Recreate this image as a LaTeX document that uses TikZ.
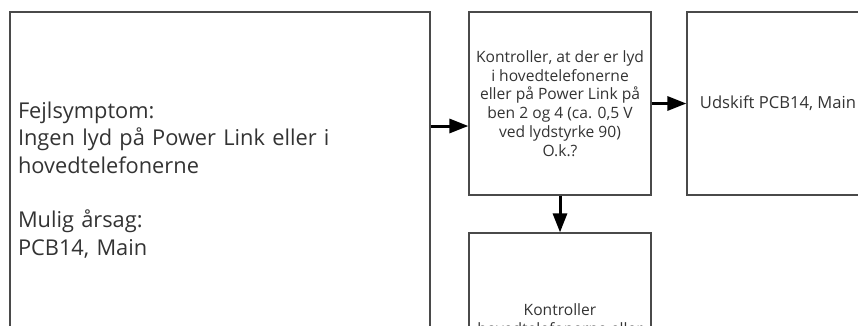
\documentclass[tikz,border=0pt]{standalone}
\usepackage{fontspec}
\setmainfont{Open Sans}
\usetikzlibrary{arrows.meta}
\definecolor{boxgray}{HTML}{4A4A4A}
\definecolor{textgray}{HTML}{333333}

\begin{document}
\begin{tikzpicture}[x=1pt, y=-1pt,
    box/.style={draw=boxgray, line width=1.2pt, text=textgray, inner sep=0pt,
      minimum width=182pt, minimum height=183pt, align=center,
      font=\fontsize{15.6}{18.8}\selectfont},
    flow/.style={line width=3pt, -{Triangle[length=19pt, width=14pt]}}]
  \useasboundingbox (0,0) rectangle (858,325);
  \clip (0,0) rectangle (858,325);

  \node[box, minimum width=420pt, minimum height=336pt, text width=404pt,
    align=left, font=\fontsize{21.8}{27.3}\selectfont] (symptom) at (220,180)
    {Fejlsymptom:\\Ingen lyd på Power Link eller i\\hovedtelefonerne\\[27.3pt]Mulig årsag:\\PCB14, Main};
  \node[box] (check) at (560,103.5)
    {Kontroller, at der er lyd\\i hovedtelefonerne\\eller på Power Link på\\ben 2 og 4 (ca. 0,5 V\\ved lydstyrke 90)\\O.k.?};
  \node[box, font=\fontsize{16.6}{19}\selectfont] (replace) at (778,103.5) {Udskift PCB14, Main};
  \node[box, minimum height=173pt] (next) at (560,319.5)
    {Kontroller\\hovedtelefonerne eller};

  \coordinate (in) at ([yshift=-22.5pt]check.west);
  \draw[flow] (in -| symptom.east) -- (in);
  \draw[flow] (check.east) -- (replace.west);
  \draw[flow] (check.south) -- (next.north);
\end{tikzpicture}
\end{document}
